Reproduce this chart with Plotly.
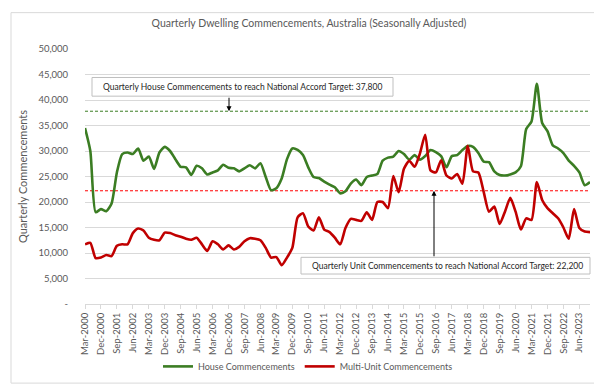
import plotly.graph_objects as go

# ---- data ----
months = ["Mar", "Jun", "Sep", "Dec"]
quarters = [f"{m}-{y}" for y in range(2000, 2024) for m in months]  # Mar-2000 .. Dec-2023

house = [34500, 30000, 18000, 18600, 18200, 19700, 25800, 29400, 29700, 29400,
         30500, 28100, 28900, 26500, 29700, 30800, 30000, 28400, 26900, 26800,
         25300, 27100, 26600, 25400, 25800, 26200, 27300, 26700, 26600, 26000,
         26600, 27200, 26600, 27600, 24900, 22300, 22700, 24600, 28400, 30500,
         30200, 29200, 26800, 24900, 24700, 24000, 23400, 22900, 21700, 22100,
         23600, 24400, 23300, 24900, 25200, 25500, 28100, 28700, 28900, 30000,
         29400, 28300, 29200, 28300, 29000, 30200, 29800, 29000, 26800, 29000,
         29200, 30200, 31000, 30800, 29600, 27900, 27800, 26000, 25300, 25200,
         25400, 25800, 27000, 34300, 35800, 43200, 35500, 33900, 31100, 30500,
         29600, 28100, 27100, 25800, 23300, 23900]

units = [11700, 12000, 9000, 9100, 9600, 9400, 11400, 11700, 11700, 13900,
         14800, 14400, 13000, 12600, 12500, 14000, 13900, 13500, 13200, 12800,
         12600, 13000, 11700, 10400, 12300, 11700, 10700, 11500, 10700, 11200,
         12300, 12900, 12800, 12500, 11000, 9100, 9200, 7600, 9100, 11000,
         17000, 17800, 15200, 14400, 17000, 14600, 14100, 13000, 11700, 14900,
         16700, 16500, 16300, 18000, 16500, 20000, 20000, 18800, 25100, 21900,
         26500, 28100, 26900, 29500, 33200, 26200, 25800, 28200, 25200, 24600,
         25500, 23600, 31000, 26000, 25800, 22000, 18100, 19100, 15700, 18100,
         20800, 18100, 14600, 16800, 16500, 23900, 20400, 18800, 17800, 16800,
         15000, 12800, 18600, 14900, 14200, 14100]

house_target = 37800
unit_target = 22200

y_ticks = [0, 5000, 10000, 15000, 20000, 25000, 30000, 35000, 40000, 45000, 50000]
y_tick_text = ["-"] + [f"{v:,}" for v in y_ticks[1:]]
x_tick_labels = quarters[::3]

house_note = "Quarterly House Commencements to reach National Accord Target: 37,800"
unit_note = "Quarterly Unit Commencements to reach National Accord Target: 22,200"

GREEN = "#3B7D23"
RED = "#C00000"
GREY = "#595959"
GRID = "#D9D9D9"
FONT = "Lato"

W, H = 602, 385
L, R, T, B = 77, 20, 41, 84.5
pw = W - L - R
ph = H - T - B


def px_x(x):
    return (x - L) / pw


def px_y(y):
    return (H - B - y) / ph


fig = go.Figure()

fig.add_trace(go.Scatter(x=quarters, y=[house_target] * len(quarters), mode="lines",
                         line=dict(color=GREEN, width=1, dash="3px,2px"),
                         showlegend=False, hoverinfo="skip"))
fig.add_trace(go.Scatter(x=quarters, y=[unit_target] * len(quarters), mode="lines",
                         line=dict(color="#FF0000", width=1, dash="3px,2px"),
                         showlegend=False, hoverinfo="skip"))
fig.add_trace(go.Scatter(x=quarters, y=house, mode="lines", name="House Commencements",
                         line=dict(color=GREEN, width=2.6, shape="spline", smoothing=0.6)))
fig.add_trace(go.Scatter(x=quarters, y=units, mode="lines", name="Multi-Unit Commencements",
                         line=dict(color=RED, width=2.6, shape="spline", smoothing=0.6)))

# text boxes (frames)
fig.add_shape(type="rect", xref="paper", yref="paper",
              x0=px_x(84), x1=px_x(385), y0=px_y(89), y1=px_y(70),
              line=dict(color="#BFBFBF", width=1), fillcolor="white", layer="above")
fig.add_shape(type="rect", xref="paper", yref="paper",
              x0=px_x(293), x1=px_x(582), y0=px_y(270), y1=px_y(253),
              line=dict(color="#BFBFBF", width=1), fillcolor="white", layer="above")
fig.add_annotation(xref="paper", yref="paper", x=px_x(93), y=px_y(79.5),
                   xanchor="left", yanchor="middle", text=house_note, showarrow=False,
                   font=dict(family=FONT, size=8.5, color="#262626"))
fig.add_annotation(xref="paper", yref="paper", x=px_x(302), y=px_y(261.5),
                   xanchor="left", yanchor="middle", text=unit_note, showarrow=False,
                   font=dict(family=FONT, size=8.5, color="#262626"))

# arrows
fig.add_annotation(xref="paper", yref="y", x=px_x(221), y=house_target, text="",
                   showarrow=True, ax=0, ay=-15, arrowhead=2, arrowsize=1,
                   arrowwidth=1, arrowcolor="black", standoff=0)
fig.add_annotation(xref="paper", yref="y", x=px_x(426), y=unit_target, text="",
                   showarrow=True, ax=0, ay=67, arrowhead=2, arrowsize=1,
                   arrowwidth=1, arrowcolor="black", standoff=0)

# outer chart border
fig.add_shape(type="rect", xref="paper", yref="paper",
              x0=px_x(3), x1=px_x(596), y0=px_y(381), y1=px_y(4),
              line=dict(color=GRID, width=1), fillcolor="rgba(0,0,0,0)", layer="below")

fig.update_layout(
    width=W, height=H,
    margin=dict(l=L, r=R, t=T, b=B),
    paper_bgcolor="white", plot_bgcolor="white",
    font=dict(family=FONT, color=GREY, size=10),
    title=dict(text="Quarterly Dwelling Commencements, Australia (Seasonally Adjusted)",
               x=0.5, xanchor="center", y=1 - 15 / H, yanchor="middle",
               font=dict(family=FONT, size=10.5, color=GREY)),
    showlegend=True,
    legend=dict(orientation="h", x=px_x(300), xanchor="center", y=px_y(364), yanchor="middle",
                font=dict(family=FONT, size=9, color=GREY), itemwidth=30,
                bgcolor="rgba(0,0,0,0)"),
    xaxis=dict(type="category", categoryorder="array", categoryarray=quarters,
               range=[0, len(quarters) - 1], tickmode="array",
               tickvals=x_tick_labels, ticktext=x_tick_labels, tickangle=-90,
               ticks="outside", ticklen=4, tickcolor=GRID, showline=True,
               linecolor=GRID, linewidth=1, showgrid=False, zeroline=False,
               tickfont=dict(family=FONT, size=9.5, color=GREY)),
    yaxis=dict(range=[0, 50000], tickmode="array", tickvals=y_ticks, ticktext=y_tick_text,
               showgrid=True, gridcolor=GRID, gridwidth=1, zeroline=False,
               ticks="outside", ticklen=14, tickcolor="rgba(0,0,0,0)",
               tickfont=dict(family=FONT, size=9.5, color=GREY),
               title=dict(text="Quarterly Commencements", standoff=8,
                          font=dict(family=FONT, size=11, color=GREY))),
)

fig.write_html("out.html")
